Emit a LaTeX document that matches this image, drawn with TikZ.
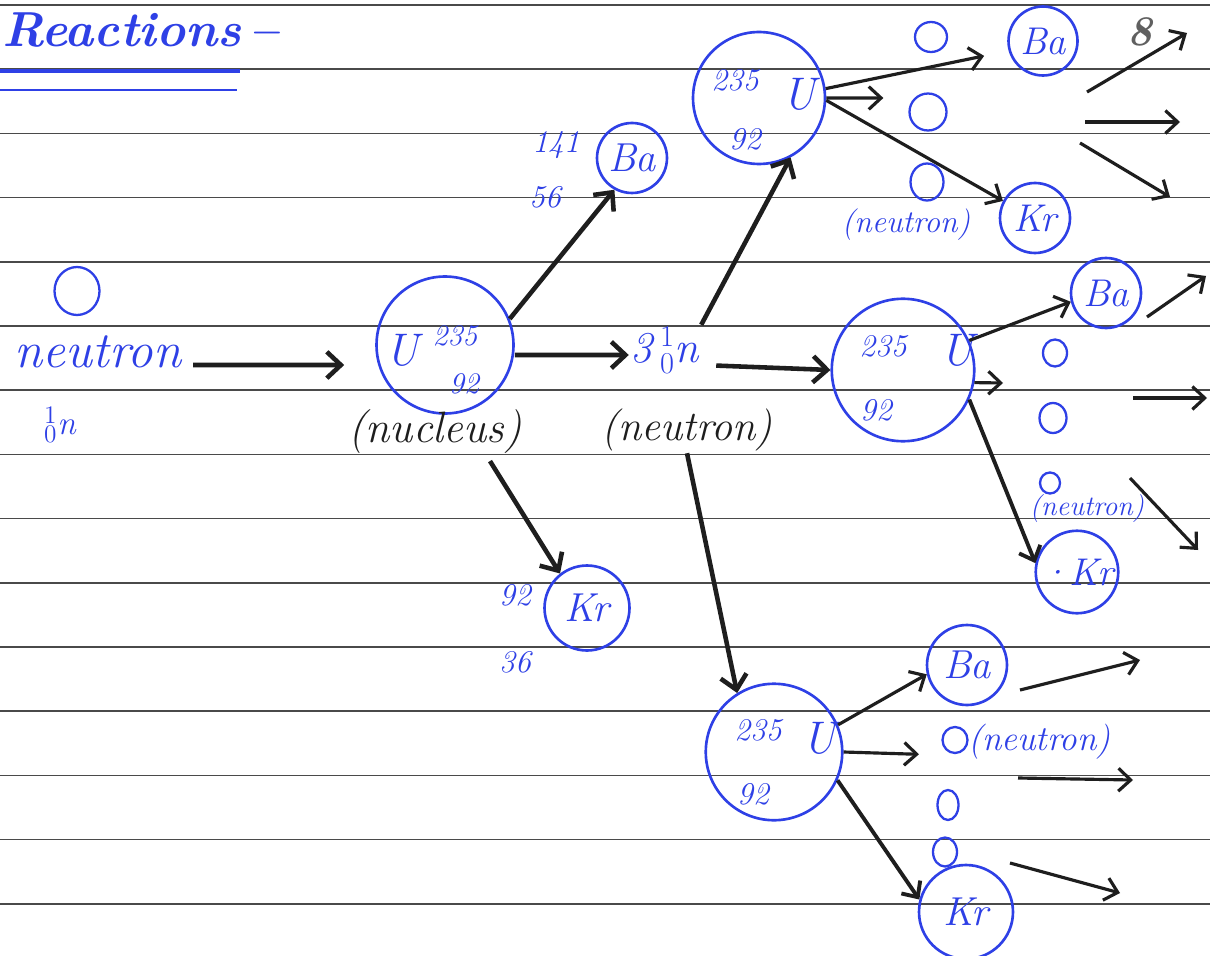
\documentclass[tikz,border=0pt]{standalone}
\usetikzlibrary{arrows.meta,shapes.geometric}
\definecolor{inkblue}{HTML}{2E40E6}
\definecolor{ink}{HTML}{1E1E1E}
\definecolor{rulecol}{HTML}{4A4A4A}
\tikzset{
  ruled/.style={draw=rulecol, line width=0.9pt},
  hand/.style={text=inkblue, inner sep=1pt, font=\fontsize{#1}{#1}\selectfont\itshape},
  handk/.style={text=ink, inner sep=1pt, font=\fontsize{#1}{#1}\selectfont\itshape},
  nuc/.style={circle, draw=inkblue, line width=1.5pt, inner sep=0pt, minimum size=#1},
  neut/.style 2 args={ellipse, draw=inkblue, line width=1.3pt, minimum width=#1, minimum height=#2, inner sep=0pt},
  bigarr/.style={draw=ink, line width=2.6pt, -{Straight Barb[length=8pt,width=15pt]}},
  arr/.style={draw=ink, line width=1.8pt, -{Straight Barb[length=7pt,width=13pt]}},
}
\begin{document}
\begin{tikzpicture}[x=0.02cm,y=-0.02cm]
\useasboundingbox (0,0) rectangle (1210,956);
\fill[white] (0,0) rectangle (1210,956);
\foreach \k in {0,...,14} \draw[ruled] (0,{5+64.2*\k}) -- (1210,{5+64.2*\k});

% title
\node[hand=28pt, anchor=west] (title) at (0,30) {\bfseries Reactions\,--};
\draw[inkblue, line width=2.6pt] (0,71) -- (240,71);
\draw[inkblue, line width=1.6pt] (0,90) -- (237,90);

% incoming neutron
\node[neut={0.9cm}{0.96cm}] (n0) at (77,291) {};
\node[hand=29pt] (nt) at (98,352) {neutron};
\node[hand=19pt] (nsym) at (60,425) {$^{1}_{0}$n};

% first uranium nucleus
\node[nuc=2.74cm] (U1) at (445,345) {};
\node[hand=26pt] (U1s) at (402,350) {U};
\node[hand=17pt] (U1a) at (455,336) {235};
\node[hand=17pt] (U1z) at (464,384) {92};
\node[handk=25pt] (nuc) at (435,432) {(nucleus)};

\node[nuc=1.4cm, hand=23pt] (Ba1) at (632,158) {Ba};
\node[hand=18pt] (Ba1m) at (556,145) {141};
\node[hand=18pt] (Ba1z) at (545,197) {56};

\node[nuc=1.7cm, hand=23pt] (Kr1) at (587,608) {Kr};
\node[hand=18pt] (Kr1m) at (515,595) {92};
\node[hand=18pt] (Kr1z) at (515,662) {36};

\node[hand=25pt] (n3) at (665,350) {3\,$^{1}_{0}$n};
\node[handk=24pt] (nlab) at (687,430) {(neutron)};

% top uranium
\node[nuc=2.64cm] (U2) at (759,98) {};
\node[hand=18pt] (U2a) at (735,80) {235};
\node[hand=26pt] (U2s) at (799,94) {U};
\node[hand=18pt] (U2z) at (745,139) {92};
\node[nuc=1.38cm, hand=22pt] (Ba2) at (1043,41) {Ba};
\node[nuc=1.4cm, hand=22pt] (Kr2) at (1035,218) {Kr};
\node[neut={0.64cm}{0.6cm}] (z2a) at (931,37) {};
\node[neut={0.74cm}{0.74cm}] (z2b) at (928,112) {};
\node[neut={0.66cm}{0.74cm}] (z2c) at (927,182) {};
\node[hand=18pt] (U2n) at (906,225) {(neutron)};
\node[text=gray!75!black, font=\fontsize{24}{24}\selectfont\bfseries\itshape] (smudge) at (1140,32) {8};

% middle uranium
\node[nuc=2.85cm] (U3) at (903,370) {};
\node[hand=18pt] (U3a) at (883,346) {235};
\node[hand=26pt] (U3s) at (957,350) {U};
\node[hand=18pt] (U3z) at (876,410) {92};
\node[nuc=1.4cm, hand=22pt] (Ba3) at (1106,293) {Ba};
\node[nuc=1.65cm, hand=22pt] (Kr3) at (1077,572) {·Kr};
\node[neut={0.48cm}{0.54cm}] (z3a) at (1055,353) {};
\node[neut={0.54cm}{0.6cm}] (z3b) at (1053,418) {};
\node[neut={0.4cm}{0.42cm}] (z3c) at (1050,483) {};
\node[hand=16pt] (U3n) at (1087,508) {(neutron)};

% bottom uranium
\node[nuc=2.73cm] (U4) at (774,752) {};
\node[hand=18pt] (U4a) at (758,730) {235};
\node[hand=26pt] (U4s) at (819,738) {U};
\node[hand=18pt] (U4z) at (753,794) {92};
\node[nuc=1.6cm, hand=23pt] (Ba4) at (967,665) {Ba};
\node[nuc=1.88cm, hand=23pt] (Kr4) at (966,912) {Kr};
\node[neut={0.5cm}{0.52cm}] (z4a) at (955,740) {};
\node[hand=20pt, anchor=west] (U4n) at (966,742) {(neutron)};
\node[neut={0.42cm}{0.6cm}] (z4b) at (948,805) {};
\node[neut={0.48cm}{0.58cm}] (z4c) at (945,852) {};

% main arrows
\draw[bigarr] ([shift={(0.2cm,-0.26cm)}]nt.east) -- ([shift={(-0.62cm,-0.4cm)}]U1.west);
\draw[bigarr] (U1.22) -- (Ba1.241);
\draw[bigarr] ([yshift=-0.2cm]U1.east) -- ([yshift=-0.1cm]n3.west);
\draw[bigarr] ([xshift=1.1cm,yshift=-0.1cm]nuc.south) -- (Kr1.128);
\draw[bigarr] (n3.north east) -- (U2.298);
\draw[bigarr, shorten <=0.3cm] ([yshift=-0.3cm]n3.east) -- (U3.west);
\draw[bigarr] (nlab.south) -- (U4.122);

% top uranium products
\draw[arr, shorten >=0.5cm] (U2.8) -- (Ba2.196);
\draw[arr, shorten >=0.5cm] (U2.east) -- ([yshift=0.28cm]z2b.west);
\draw[arr] (U2.358) -- (Kr2.152);

% middle uranium products
\coordinate (U3o) at (1003,383);
\draw[arr] (U3.24) -- (Ba3.194);
\draw[arr] (U3.350) -- (U3o);
\draw[arr, line width=2.2pt] (U3.336) -- (Kr3.168);

% bottom uranium products
\draw[arr] (U4.23) -- (Ba4.193);
\draw[arr, shorten >=0.45cm] (U4.east) -- ([yshift=-0.3cm]z4a.west);
\draw[arr, line width=2.2pt] (U4.336) -- (Kr4.165);

% free arrows on the right
\coordinate (r1s) at (1087,92);  \coordinate (r1e) at (1187,33);
\coordinate (r2s) at (1085,122); \coordinate (r2e) at (1180,122);
\coordinate (r3s) at (1080,143); \coordinate (r3e) at (1170,197);
\coordinate (r4s) at (1147,317); \coordinate (r4e) at (1206,276);
\coordinate (r5s) at (1133,398); \coordinate (r5e) at (1207,398);
\coordinate (r6s) at (1130,478); \coordinate (r6e) at (1198,550);
\coordinate (r7s) at (1020,690); \coordinate (r7e) at (1140,660);
\coordinate (r8s) at (1018,778); \coordinate (r8e) at (1133,780);
\coordinate (r9s) at (1010,863); \coordinate (r9e) at (1120,893);
\foreach \i in {1,...,9} \draw[arr] (r\i s) -- (r\i e);
\end{tikzpicture}
\end{document}
